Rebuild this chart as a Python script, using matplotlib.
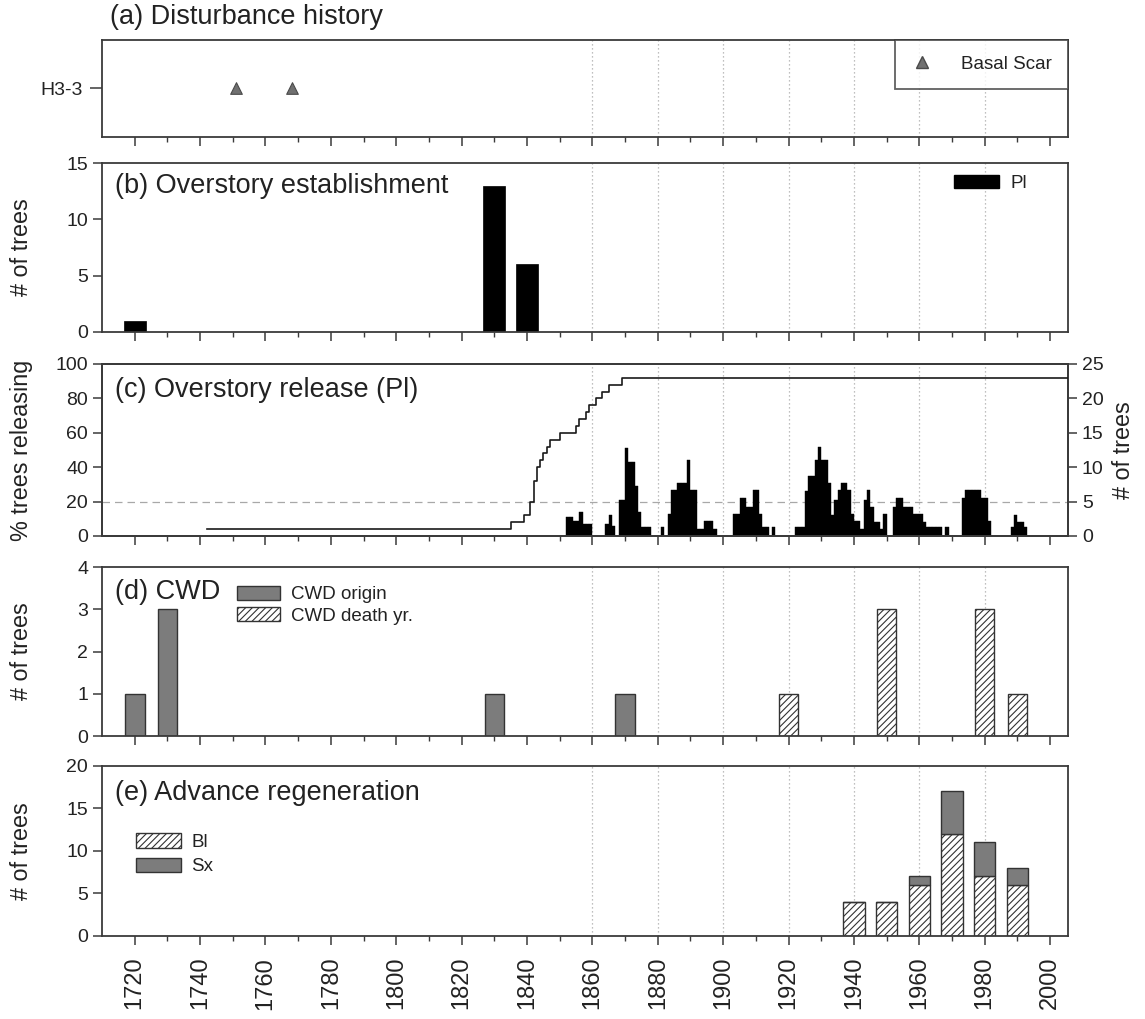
import matplotlib
matplotlib.use("Agg")
import matplotlib.pyplot as plt
from matplotlib.ticker import FixedLocator
from matplotlib.patches import Patch
from matplotlib.lines import Line2D

plt.rcParams["font.family"] = ["Liberation Sans", "DejaVu Sans"]
plt.rcParams["hatch.linewidth"] = 0.8

# ---------------- data ----------------
# (a) fire scars on tree H3-3
scar_years = [1751, 1768]
scar_trees = ["H3-3"]

# (b) overstory establishment, Pl, by decade
estab_decades = [1720, 1830, 1840]
estab_counts = [1, 13, 6]

# (c) overstory release (% of Pl trees releasing per year)
release_years = [
    1852, 1853, 1854, 1855, 1856, 1857, 1858, 1859,
    1864, 1865, 1866,
    1868, 1869, 1870, 1871, 1872, 1873, 1874, 1875, 1876, 1877,
    1881,
    1883, 1884, 1885, 1886, 1887, 1888, 1889, 1890, 1891, 1892, 1893,
    1894, 1895, 1896, 1897,
    1903, 1904, 1905, 1906, 1907, 1908, 1909, 1910, 1911, 1912, 1913,
    1915,
    1922, 1923, 1924, 1925, 1926, 1927, 1928, 1929, 1930, 1931, 1932,
    1933, 1934, 1935, 1936, 1937, 1938, 1939, 1940, 1941, 1942,
    1943, 1944, 1945, 1946, 1947, 1948, 1949,
    1952, 1953, 1954, 1955, 1956, 1957, 1958, 1959, 1960, 1961, 1962,
    1963, 1964, 1965, 1966, 1968,
    1973, 1974, 1975, 1976, 1977, 1978, 1979, 1980, 1981,
    1988, 1989, 1990, 1991, 1992,
]
release_pct = [
    11, 11, 9, 9, 14, 7, 7, 7,
    7, 12, 6,
    21, 21, 51, 43, 43, 29, 14, 5, 5, 5,
    5,
    13, 27, 27, 31, 31, 31, 44, 27, 27, 4, 4,
    9, 9, 9, 4,
    13, 13, 22, 22, 17, 17, 27, 27, 13, 5, 5,
    5,
    5, 5, 5, 26, 35, 35, 44, 52, 44, 44, 31,
    12, 21, 27, 31, 31, 27, 13, 9, 9, 4,
    21, 27, 17, 8, 8, 4, 13,
    17, 22, 22, 17, 17, 17, 13, 13, 13, 8, 5,
    5, 5, 5, 5, 5,
    22, 27, 27, 27, 27, 27, 22, 22, 9,
    5, 12, 8, 8, 5,
]

# (c) sample depth (number of Pl trees in the release record)
depth_years = [1742, 1835, 1839, 1841, 1842, 1843, 1844, 1845, 1846, 1847,
               1850, 1855, 1856, 1858, 1859, 1861, 1863, 1865, 1869]
depth_trees = [1, 2, 3, 5, 8, 10, 11, 12, 13, 14,
               15, 16, 17, 18, 19, 20, 21, 22, 23]

# (d) coarse woody debris
cwd_origin_decades = [1720, 1730, 1830, 1870]
cwd_origin_counts = [1, 3, 1, 1]
cwd_death_decades = [1920, 1950, 1980, 1990]
cwd_death_counts = [1, 3, 3, 1]

# (e) advance regeneration by decade
regen_decades = [1940, 1950, 1960, 1970, 1980, 1990]
regen_bl = [4, 4, 6, 12, 7, 6]
regen_sx = [0, 0, 1, 5, 4, 2]

x_ticks = list(range(1720, 2001, 20))
x_minor = list(range(1730, 2000, 20))
grid_years = list(range(1860, 1981, 20))

# ---------------- styling ----------------
XMIN, XMAX = 1710, 2005.5
SPINE = "#3a3a3a"
TXT = "#222222"
GRAY = "#7c7c7c"
TITLE_FS = 19.5
LABEL_FS = 16.8
YTICK_FS = 14
XTICK_FS = 17
LEG_FS = 13.5
YLAB_X = -0.071

fig = plt.figure(figsize=(11.45, 10.19), dpi=100)
L, W = 0.0891, 0.8437
axa = fig.add_axes([L, 0.8656, W, 0.0952])
axb = fig.add_axes([L, 0.6742, W, 0.1658])
axc = fig.add_axes([L, 0.4740, W, 0.1688])
axd = fig.add_axes([L, 0.2777, W, 0.1658])
axe = fig.add_axes([L, 0.0815, W, 0.1668])


def style(ax, last=False):
    ax.set_xlim(XMIN, XMAX)
    ax.xaxis.set_major_locator(FixedLocator(x_ticks))
    ax.xaxis.set_minor_locator(FixedLocator(x_minor))
    for s in ax.spines.values():
        s.set_color(SPINE)
        s.set_linewidth(1.3)
    ax.tick_params(axis="both", which="major", direction="out", length=6.5,
                   width=1.1, color=SPINE, labelcolor=TXT, labelsize=YTICK_FS)
    ax.tick_params(axis="x", which="minor", direction="out", length=3.5,
                   width=1.0, color=SPINE)
    if last:
        ax.tick_params(axis="x", which="major", labelsize=XTICK_FS,
                       labelrotation=90, pad=8.5)
    else:
        ax.tick_params(axis="x", which="major", labelbottom=False)
    for g in grid_years:
        ax.axvline(g, color="#aaaaaa", lw=0.9, ls=(0, (1, 2.2)), zorder=0)


def panel_title(ax, text, y):
    ax.text(0.013, y, text, transform=ax.transAxes, fontsize=TITLE_FS,
            color=TXT, va="center", ha="left", zorder=5)


def ylab(ax, text, x=YLAB_X):
    ax.set_ylabel(text, fontsize=LABEL_FS, color=TXT)
    ax.yaxis.set_label_coords(x, 0.5)


# (a) Disturbance history
style(axa)
axa.set_ylim(0, 2)
axa.scatter(scar_years, [1] * len(scar_years), marker="^", s=70,
            color="#707070", edgecolors="#4a4a4a", linewidths=0.8, zorder=3)
axa.set_yticks([1])
axa.set_yticklabels(scar_trees)
axa.tick_params(axis="y", length=9, pad=5)
axa.text(0.008, 1.237, "(a) Disturbance history", transform=axa.transAxes,
         fontsize=TITLE_FS, color=TXT, va="center", ha="left")
h_scar = Line2D([], [], ls="none", marker="^", ms=8, color="#707070",
                markeredgecolor="#4a4a4a")
lga = axa.legend([h_scar], ["Basal Scar"], loc="upper right",
                 bbox_to_anchor=(1.0, 1.0), borderaxespad=0, frameon=True,
                 fancybox=False, edgecolor=SPINE, fontsize=LEG_FS,
                 borderpad=0.85, handlelength=1.2, handletextpad=1.5,
                 labelcolor=TXT)
lga.get_frame().set_linewidth(1.3)

# (b) Overstory establishment
style(axb)
axb.bar(estab_decades, estab_counts, width=6.7, color="black",
        edgecolor="black", lw=0.5, zorder=2)
axb.set_ylim(0, 15)
axb.set_yticks([0, 5, 10, 15])
panel_title(axb, "(b) Overstory establishment", 0.862)
ylab(axb, "# of trees")
axb.legend([Patch(facecolor="black", edgecolor="black")], ["Pl"],
           loc="upper right", bbox_to_anchor=(0.965, 0.975), frameon=False,
           fontsize=LEG_FS, handlelength=2.4, handleheight=0.75,
           handletextpad=0.6, borderaxespad=0, labelcolor=TXT)

# (c) Overstory release
style(axc)
axc.bar(release_years, release_pct, width=1.0, align="edge", color="black",
        edgecolor="black", lw=0.3, zorder=2)
axc.axhline(20, color="#a8a8a8", lw=0.9, ls=(0, (6, 4)), zorder=1)
axc.set_ylim(0, 100)
axc.set_yticks([0, 20, 40, 60, 80, 100])
panel_title(axc, "(c) Overstory release (Pl)", 0.849)
ylab(axc, "% trees releasing")

axc2 = axc.twinx()
axc2.set_xlim(XMIN, XMAX)
axc2.set_ylim(0, 25)
axc2.set_yticks([0, 5, 10, 15, 20, 25])
for s in axc2.spines.values():
    s.set_color(SPINE)
    s.set_linewidth(1.3)
axc2.tick_params(axis="y", direction="out", length=6.5, width=1.1, color=SPINE,
                 labelcolor=TXT, labelsize=YTICK_FS)
axc2.step(depth_years + [XMAX], depth_trees + [depth_trees[-1]],
          where="post", color="#1a1a1a", lw=1.2, zorder=3)
axc2.set_ylabel("# of trees", fontsize=LABEL_FS, color=TXT, rotation=90)
axc2.yaxis.set_label_coords(1.046, 0.5)

# (d) CWD
style(axd)
axd.bar(cwd_origin_decades, cwd_origin_counts, width=6.0, color=GRAY,
        edgecolor="#333333", lw=1.0, zorder=2)
axd.bar(cwd_death_decades, cwd_death_counts, width=6.0, color="white",
        edgecolor="#333333", hatch="/////", lw=1.0, zorder=2)
axd.set_ylim(0, 4)
axd.set_yticks([0, 1, 2, 3, 4])
panel_title(axd, "(d) CWD", 0.852)
ylab(axd, "# of trees")
axd.legend([Patch(facecolor=GRAY, edgecolor="#333333"),
            Patch(facecolor="white", edgecolor="#333333", hatch="/////")],
           ["CWD origin", "CWD death yr."], loc="upper left",
           bbox_to_anchor=(0.14, 0.89), frameon=False, fontsize=LEG_FS,
           handlelength=2.3, handleheight=0.8, handletextpad=0.55,
           labelspacing=0.2, borderaxespad=0, borderpad=0, labelcolor=TXT)

# (e) Advance regeneration
style(axe, last=True)
axe.bar(regen_decades, regen_bl, width=6.5, color="white",
        edgecolor="#333333", hatch="/////", lw=1.0, zorder=2)
axe.bar(regen_decades, regen_sx, width=6.5, bottom=regen_bl, color=GRAY,
        edgecolor="#333333", lw=1.0, zorder=2)
axe.set_ylim(0, 20)
axe.set_yticks([0, 5, 10, 15, 20])
panel_title(axe, "(e) Advance regeneration", 0.84)
ylab(axe, "# of trees")
axe.legend([Patch(facecolor="white", edgecolor="#333333", hatch="/////"),
            Patch(facecolor=GRAY, edgecolor="#333333")],
           ["Bl", "Sx"], loc="upper left",
           bbox_to_anchor=(0.035, 0.603), frameon=False, fontsize=LEG_FS,
           handlelength=2.4, handleheight=0.8, handletextpad=0.55,
           labelspacing=0.35, borderaxespad=0, borderpad=0, labelcolor=TXT)

fig.savefig("out.png", dpi=100, facecolor="white")
